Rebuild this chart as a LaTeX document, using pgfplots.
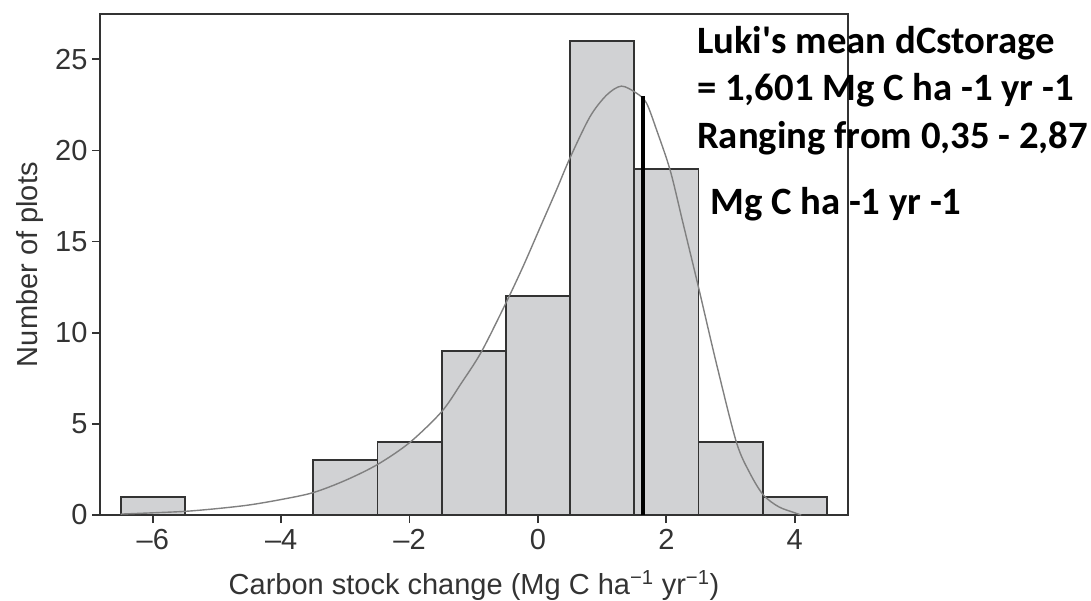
\documentclass[border=0pt]{standalone}
\usepackage{fontspec}
\setmainfont{Liberation Sans}
\newfontfamily\calib{Carlito}
\usepackage{pgfplots}
\pgfplotsset{compat=1.18}
\definecolor{barfill}{HTML}{D1D2D4}
\definecolor{edge}{HTML}{333333}
\definecolor{curvec}{HTML}{808080}
\begin{document}
\begin{tikzpicture}
\useasboundingbox (0,0) rectangle (1091pt,600pt);
\begin{axis}[
  at={(100pt,85pt)}, anchor=south west,
  width=748pt, height=500.7pt, scale only axis,
  xmin=-6.822, xmax=4.829, ymin=0, ymax=27.47,
  axis line style={edge, line width=1.8pt},
  tick style={edge, line width=1.8pt},
  tick align=outside, major tick length=8pt, tick pos=left,
  xtick={-6,-4,-2,0,2,4},
  xticklabels={\textendash6,\textendash4,\textendash2,0,2,4},
  ytick={0,5,10,15,20,25},
  yticklabels={0,5,10,15,20,25},
  ticklabel style={font=\fontsize{29}{34}\selectfont, text=edge},
  xticklabel style={yshift=-3pt},
  yticklabel style={xshift=-1pt},
  xlabel={Carbon stock change (Mg C ha\textsuperscript{−1} yr\textsuperscript{−1})},
  ylabel={Number of plots},
  label style={font=\fontsize{29}{34}\selectfont, text=edge},
  x label style={at={(axis description cs:0.5,0)}, anchor=base, yshift=-79pt},
  y label style={at={(axis description cs:-0.0842,0.5)}, anchor=base, rotate=0},
  clip=false,
]
\addplot[ybar interval, fill=barfill, draw=edge, line width=1.8pt] coordinates {
  (-6.5,1) (-5.5,0) (-4.5,0) (-3.5,3) (-2.5,4) (-1.5,9) (-0.5,12)
  (0.5,26) (1.5,19) (2.5,4) (3.5,1) (4.5,1)
};
\addplot[curvec, line width=1.4pt, smooth] coordinates {
  (-6.5,0.05) (-6.0,0.12) (-5.5,0.2) (-5.0,0.35) (-4.5,0.55) (-4.0,0.85)
  (-3.5,1.23) (-3.0,1.9) (-2.5,2.77) (-2.0,3.97) (-1.5,5.67) (-1.2,7.2)
  (-0.88,8.96) (-0.49,11.7) (-0.23,13.65) (0.03,15.75) (0.29,17.85) (0.5,19.6)
  (0.81,21.85) (1.07,23.04) (1.3,23.53) (1.54,23.13) (1.69,22.6) (1.85,21.1)
  (2.06,18.9) (2.26,16.0) (2.5,12.5) (2.78,8.3) (3.09,4.0) (3.3,2.3) (3.51,1.1)
  (3.75,0.45) (4.0,0.12) (4.1,0.0)
};
\addplot[black, line width=4.3pt] coordinates {(1.64,0) (1.64,23.0)};
\node[anchor=base west, inner sep=0pt, font=\calib\bfseries\fontsize{38.7}{44}\selectfont] at (axis cs:2.477,25.34) {Luki's mean dCstorage};
\node[anchor=base west, inner sep=0pt, font=\calib\bfseries\fontsize{38.7}{44}\selectfont] at (axis cs:2.477,22.73) {= 1,601 Mg C ha -1 yr -1};
\node[anchor=base west, inner sep=0pt, font=\calib\bfseries\fontsize{38.7}{44}\selectfont] at (axis cs:2.477,20.13) {Ranging from 0,35 - 2,87};
\node[anchor=base west, inner sep=0pt, font=\calib\bfseries\fontsize{38.7}{44}\selectfont] at (axis cs:2.68,16.51) {Mg C ha -1 yr -1};
\end{axis}
\end{tikzpicture}
\end{document}
